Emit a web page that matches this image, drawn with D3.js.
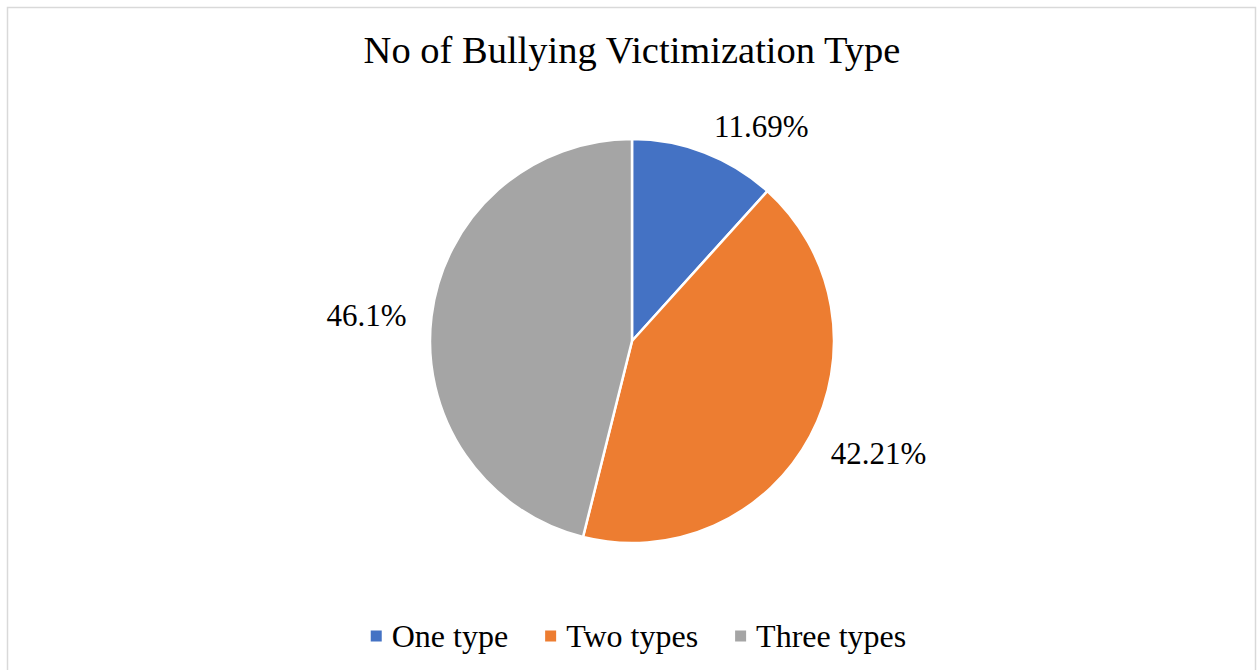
<!DOCTYPE html>
<html><head><meta charset="utf-8">
<script src="https://cdn.jsdelivr.net/npm/d3@7"></script>
<style>html,body{margin:0;padding:0;background:#fff;}svg{display:block;}</style>
</head><body>
<svg id="c" width="1257" height="670"></svg>
<script>
const categories = ["One type", "Two types", "Three types"];
const values = [11.69, 42.21, 46.1];
const valueLabels = ["11.69%", "42.21%", "46.1%"];
const colors = ["#4472C4", "#ED7D31", "#A5A5A5"];
const title = "No of Bullying Victimization Type";

const W = 1257, H = 670;
const svg = d3.select("#c");
const font = "'Liberation Serif','Times New Roman',serif";

svg.append("rect").attr("x", 7.5).attr("y", 7.5).attr("width", 1248).attr("height", 680)
  .attr("fill", "#fff").attr("stroke", "#d9d9d9").attr("stroke-width", 1.5);

svg.append("text").attr("x", 632).attr("y", 63).attr("text-anchor", "middle")
  .attr("font-family", font).attr("font-size", 38.5).attr("fill", "#000").text(title);

const cx = 632, cy = 341, r = 202;
const g = svg.append("g").attr("transform", `translate(${cx},${cy})`);
const pie = d3.pie().sort(null).value(d => d)(values);
const arc = d3.arc().innerRadius(0).outerRadius(r);

g.selectAll("path").data(pie).join("path")
  .attr("d", arc).attr("fill", (d, i) => colors[i])
  .attr("stroke", "#fff").attr("stroke-width", 2.5).attr("stroke-linejoin", "round");

const R = r + 21;
g.selectAll("text.lbl").data(pie).join("text").attr("class", "lbl")
  .each(function(d, i) {
    const a = (d.startAngle + d.endAngle) / 2;
    const px = R * Math.sin(a), py = -R * Math.cos(a);
    const right = Math.sin(a) >= 0;
    d3.select(this)
      .attr("x", px + (right ? 2 : -4))
      .attr("y", py + 10 * (-Math.cos(a)) + 3)
      .attr("text-anchor", right ? "start" : "end")
      .attr("dominant-baseline", "central");
  })
  .attr("font-family", font).attr("font-size", 31).attr("fill", "#000")
  .text((d, i) => valueLabels[i]);

// legend
const lg = svg.append("g");
const sq = 11, gapT = 10, gapI = 37;
let x = 0;
categories.forEach((c, i) => {
  const it = lg.append("g").attr("transform", `translate(${x},0)`);
  it.append("rect").attr("x", 0).attr("y", -sq / 2).attr("width", sq).attr("height", sq).attr("fill", colors[i]);
  const t = it.append("text").attr("x", sq + gapT).attr("y", 0).attr("dominant-baseline", "central")
    .attr("font-family", font).attr("font-size", 32).attr("fill", "#000").text(c);
  x += sq + gapT + t.node().getComputedTextLength() + gapI;
});
const totalW = x - gapI;
lg.attr("transform", `translate(${638.5 - totalW / 2},636)`);
</script>
</body></html>
